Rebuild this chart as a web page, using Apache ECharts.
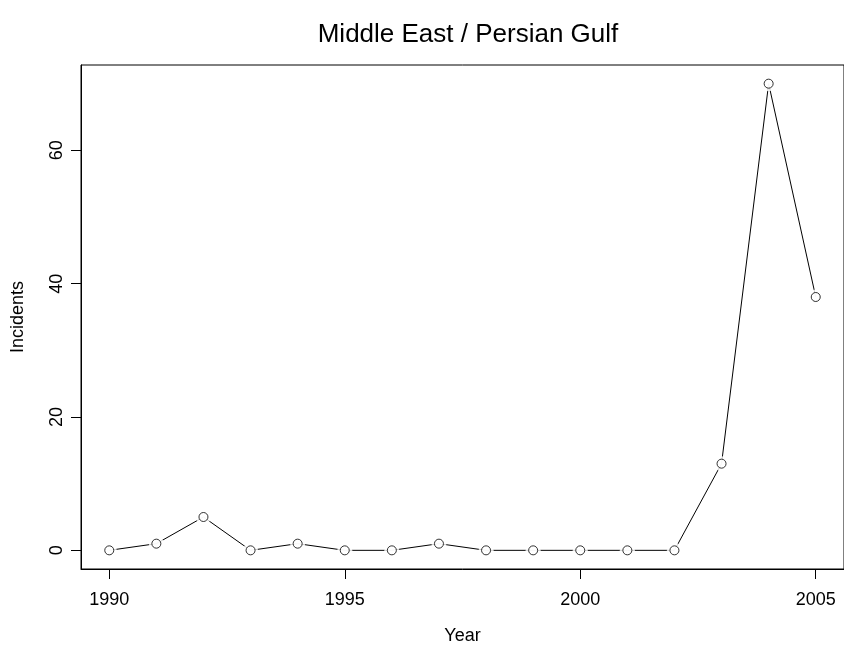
<!DOCTYPE html>
<html>
<head>
<meta charset="utf-8">
<script src="https://cdn.jsdelivr.net/npm/echarts@6/dist/echarts.min.js"></script>
<style>
  html, body { margin: 0; padding: 0; background: #fff; }
  #chart { width: 844px; height: 650px; }
</style>
</head>
<body>
<div id="chart"></div>
<script>
// data
var years = [1990, 1991, 1992, 1993, 1994, 1995, 1996, 1997, 1998, 1999, 2000, 2001, 2002, 2003, 2004, 2005];
var incidents = [0, 1, 5, 0, 1, 0, 0, 1, 0, 0, 0, 0, 0, 13, 70, 38];
var xTicks = [1990, 1995, 2000, 2005];
var yTicks = [0, 20, 40, 60];

var points = years.map(function (y, i) { return [y, incidents[i]]; });
var font = "Liberation Sans, Arial, Helvetica, sans-serif";

var mychart = echarts.init(document.getElementById("chart"));
var option = {
  animation: false,
  backgroundColor: "#fff",
  title: {
    text: "Middle East / Persian Gulf",
    left: 463,
    textAlign: "center",
    top: 17,
    textStyle: { color: "#000", fontSize: 26, fontWeight: "normal", fontFamily: font },
  },
  grid: {
    show: true,
    left: 81,
    top: 65,
    width: 764,
    height: 504,
    borderColor: "#000",
    borderWidth: 1,
    backgroundColor: "transparent",
  },
  xAxis: {
    type: "value",
    min: 1989.4,
    max: 2005.6,
    name: "Year",
    nameLocation: "middle",
    nameGap: 58,
    nameTextStyle: { color: "#000", fontSize: 18, fontFamily: font },
    axisLine: { show: true, onZero: false, lineStyle: { color: "#000", width: 1 } },
    axisTick: { show: true, inside: false, length: 10, customValues: xTicks, lineStyle: { color: "#000", width: 1 } },
    axisLabel: {
      customValues: xTicks,
      margin: 22,
      color: "#000",
      fontSize: 18,
      fontFamily: font,
      formatter: function (v) { return String(v); },
    },
    splitLine: { show: false },
  },
  yAxis: {
    type: "value",
    min: -2.8,
    max: 72.8,
    name: "Incidents",
    nameLocation: "middle",
    nameRotate: 90,
    nameGap: 54,
    nameTextStyle: { color: "#000", fontSize: 18, fontFamily: font },
    axisLine: { show: true, onZero: false, lineStyle: { color: "#000", width: 1 } },
    axisTick: { show: true, inside: false, length: 10, customValues: yTicks, lineStyle: { color: "#000", width: 1 } },
    axisLabel: {
      customValues: yTicks,
      rotate: 90,
      margin: 15,
      color: "#000",
      fontSize: 18,
      fontFamily: font,
      formatter: function (v) { return String(v); },
    },
    splitLine: { show: false },
  },
  series: [
    {
      type: "line",
      data: points,
      showSymbol: false,
      lineStyle: { color: "#000", width: 1 },
      z: 2,
    },
    {
      // white patch so the line stops short of each point
      type: "scatter",
      data: points,
      symbol: "circle",
      symbolSize: 15,
      itemStyle: { color: "#fff" },
      z: 3,
    },
    {
      type: "scatter",
      data: points,
      symbol: "circle",
      symbolSize: 9,
      itemStyle: { color: "#fff", borderColor: "#000", borderWidth: 1 },
      z: 4,
    },
  ],
};
mychart.setOption(option);
</script>
</body>
</html>
